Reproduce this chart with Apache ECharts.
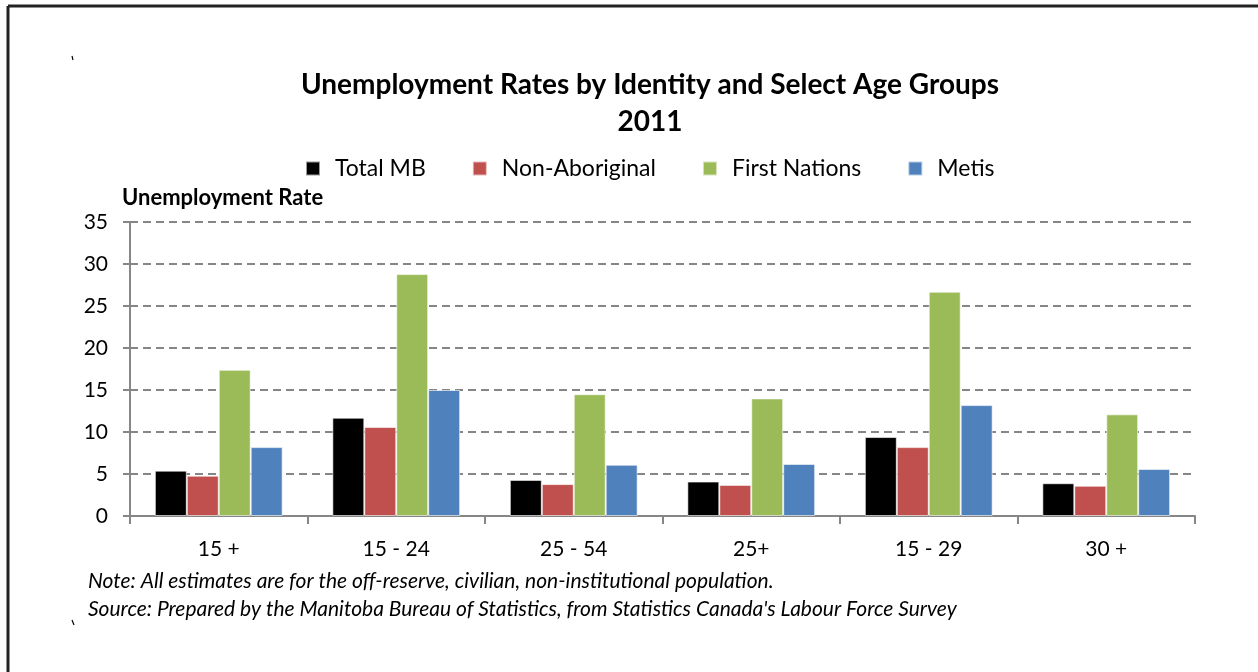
<!DOCTYPE html>
<html>
<head>
<meta charset="utf-8">
<script src="https://cdn.jsdelivr.net/npm/echarts@6/dist/echarts.min.js"></script>
<style>
  html, body { margin: 0; padding: 0; background: #ffffff; }
  #chart { width: 1258px; height: 672px; }
</style>
</head>
<body>
<div id="chart"></div>
<script>
// Age groups along the horizontal axis
const ageGroups = ['15 +', '15 - 24', '25 - 54', '25+', '15 - 29', '30 +'];

// Unemployment rate (%) by identity, 2011
const totalMB       = [5.4, 11.7, 4.3, 4.1, 9.4, 3.9];
const nonAboriginal = [4.8, 10.6, 3.8, 3.7, 8.2, 3.6];
const firstNations  = [17.4, 28.8, 14.5, 14.0, 26.7, 12.1];
const metis         = [8.2, 15.0, 6.1, 6.2, 13.2, 5.6];

const seriesNames = ['Total MB', 'Non-Aboriginal', 'First Nations', 'Metis'];
const seriesColors = ['#000000', '#C0504D', '#9BBB59', '#4F81BD'];
const seriesData = [totalMB, nonAboriginal, firstNations, metis];

const FONT = 'Lato, "Open Sans", sans-serif';
const GRID_GREY = '#868686';

const chart = echarts.init(document.getElementById('chart'), null, { renderer: 'canvas' });

chart.setOption({
  backgroundColor: '#ffffff',
  animation: false,
  title: {
    text: 'Unemployment Rates by Identity and Select Age Groups\n2011',
    left: 645,
    textAlign: 'center',
    top: 61,
    textStyle: {
      fontFamily: FONT,
      fontWeight: 'bold',
      fontSize: 28,
      lineHeight: 37,
      color: '#000000'
    }
  },
  legend: {
    top: 152,
    left: 300,
    itemWidth: 14,
    itemHeight: 14,
    itemGap: 46,
    icon: 'rect',
    data: seriesNames,
    textStyle: {
      fontFamily: FONT,
      fontSize: 23,
      color: '#000000',
      padding: [0, 0, 0, 10]
    }
  },
  grid: {
    left: 130,
    right: 63,
    top: 222,
    bottom: 156,
    containLabel: false
  },
  xAxis: {
    type: 'category',
    data: ageGroups,
    boundaryGap: true,
    axisLine: { show: true, lineStyle: { color: GRID_GREY, width: 2 } },
    axisTick: { show: true, alignWithLabel: false, length: 8, lineStyle: { color: GRID_GREY, width: 2 } },
    axisLabel: {
      margin: 23,
      fontFamily: FONT,
      fontSize: 21,
      color: '#000000'
    }
  },
  yAxis: {
    type: 'value',
    min: 0,
    max: 35,
    interval: 5,
    name: 'Unemployment Rate',
    nameLocation: 'end',
    nameGap: 13,
    nameTextStyle: {
      fontFamily: FONT,
      fontWeight: 'bold',
      fontSize: 22,
      color: '#000000',
      align: 'left',
      padding: [0, 0, 0, -8]
    },
    axisLine: { show: true, lineStyle: { color: GRID_GREY, width: 2 } },
    axisTick: { show: true, inside: false, length: 7, lineStyle: { color: GRID_GREY, width: 2 } },
    axisLabel: {
      margin: 22,
      fontFamily: FONT,
      fontSize: 21,
      color: '#000000'
    },
    splitLine: {
      show: true,
      lineStyle: { color: GRID_GREY, width: 2, type: [8, 5] }
    }
  },
  series: seriesNames.map((name, i) => ({
    name: name,
    type: 'bar',
    data: seriesData[i],
    barGap: '0%',
    barCategoryGap: '28%',
    itemStyle: {
      color: seriesColors[i],
      borderColor: 'rgba(255,255,255,0.6)',
      borderWidth: 1
    }
  })),
  graphic: [
    // frame: top and left edges
    { type: 'line', shape: { x1: 8, y1: 6, x2: 1258, y2: 6 }, style: { stroke: '#222222', lineWidth: 3 } },
    { type: 'line', shape: { x1: 8, y1: 6, x2: 8, y2: 672 }, style: { stroke: '#222222', lineWidth: 3 } },
    // small corner marks
    { type: 'line', shape: { x1: 72, y1: 56, x2: 73, y2: 60 }, style: { stroke: '#000', lineWidth: 1.2 } },
    { type: 'line', shape: { x1: 72, y1: 620, x2: 74, y2: 625 }, style: { stroke: '#000', lineWidth: 1.2 } },
    // footnotes
    {
      type: 'text',
      left: 88,
      top: 571,
      style: {
        text: 'Note: All estimates are for the off-reserve, civilian, non-institutional population.',
        fontFamily: FONT,
        fontStyle: 'italic',
        fontSize: 21,
        fill: '#000000'
      }
    },
    {
      type: 'text',
      left: 88,
      top: 599,
      style: {
        text: "Source: Prepared by the Manitoba Bureau of Statistics, from Statistics Canada's Labour Force Survey",
        fontFamily: FONT,
        fontStyle: 'italic',
        fontSize: 21,
        fill: '#000000'
      }
    }
  ]
});
</script>
</body>
</html>
